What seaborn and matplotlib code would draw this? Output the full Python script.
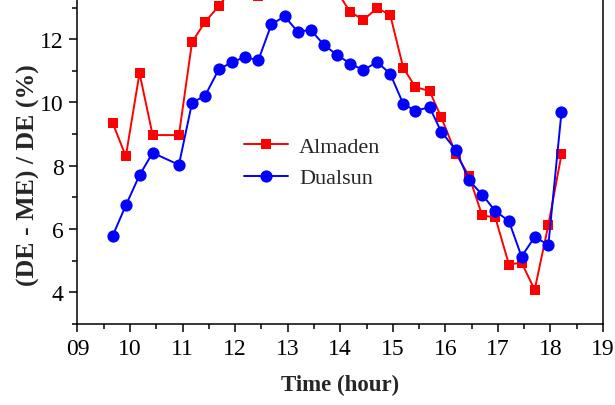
import matplotlib
matplotlib.use("Agg")
import matplotlib.pyplot as plt
import seaborn as sns
import pandas as pd
from matplotlib.ticker import MultipleLocator

# ---- data ----
hours = [9.67, 9.92, 10.18, 10.43, 10.93, 11.18, 11.43, 11.69, 11.94, 12.19,
         12.44, 12.69, 12.94, 13.19, 13.44, 13.69, 13.94, 14.19, 14.44, 14.70,
         14.95, 15.20, 15.43, 15.70, 15.92, 16.20, 16.45, 16.70, 16.95, 17.21,
         17.45, 17.70, 17.96, 18.21]
almaden = [9.35, 8.30, 10.93, 8.97, 8.97, 11.91, 12.55, 13.05, 13.6, 13.7,
           13.35, 13.9, 14.1, 13.9, 13.8, 13.7, 13.5, 12.86, 12.61, 12.98,
           12.77, 11.09, 10.49, 10.36, 9.54, 8.38, 7.68, 6.43, 6.37, 4.88,
           4.94, 4.08, 6.13, 8.36]
dualsun = [5.79, 6.75, 7.70, 8.41, 8.03, 9.99, 10.22, 11.05, 11.27, 11.44,
           11.33, 12.47, 12.72, 12.24, 12.29, 11.82, 11.50, 11.23, 11.02, 11.28,
           10.91, 9.95, 9.74, 9.85, 9.08, 8.50, 7.54, 7.09, 6.57, 6.25,
           5.13, 5.75, 5.50, 9.70]
xticks = [9, 10, 11, 12, 13, 14, 15, 16, 17, 18, 19]
xtick_labels = ["09", "10", "11", "12", "13", "14", "15", "16", "17", "18", "19"]
yticks = [4, 6, 8, 10, 12]

sns.set_style("ticks")
plt.rcParams["font.family"] = "serif"
plt.rcParams["font.serif"] = ["Liberation Serif", "Times New Roman", "DejaVu Serif"]
plt.rcParams["mathtext.fontset"] = "stix"

df_a = pd.DataFrame({"hour": hours, "value": almaden})
df_d = pd.DataFrame({"hour": hours, "value": dualsun})

fig = plt.figure(figsize=(6.15, 4.06), dpi=100)
ax = fig.add_axes([0.126, 0.1995, 0.9805 - 0.126, 1.0 - 0.1995])

sns.lineplot(data=df_a, x="hour", y="value", ax=ax, color="#ff0000",
             marker="s", markersize=7.8, markeredgewidth=0, linewidth=1.4,
             label="Almaden", sort=False)
sns.lineplot(data=df_d, x="hour", y="value", ax=ax, color="#0000ff",
             marker="o", markersize=8.8, markeredgewidth=0, linewidth=1.4,
             label="Dualsun", sort=False)

ax.set_xlim(9, 19)
ax.set_ylim(3, 13.27)
ax.set_xticks(xticks)
ax.set_xticklabels(xtick_labels)
ax.set_yticks(yticks)
ax.xaxis.set_minor_locator(MultipleLocator(0.5))
ax.yaxis.set_minor_locator(MultipleLocator(1))
ax.tick_params(axis="both", which="major", direction="out", length=6,
               width=1.1, labelsize=17, color="black", labelcolor="black",
               pad=4)
ax.tick_params(axis="both", which="minor", direction="out", length=3.5,
               width=1.1, color="black")
ax.tick_params(top=False, right=False, which="both")

for side in ["left", "bottom", "right"]:
    ax.spines[side].set_visible(True)
    ax.spines[side].set_color("black")
    ax.spines[side].set_linewidth(1.1)
ax.spines["top"].set_visible(False)

ax.set_xlabel("Time (hour)", fontsize=16.5, fontweight="bold", labelpad=11)
ax.set_ylabel("(DE - ME) / DE (%)", fontsize=18.5, fontweight="bold")
ax.yaxis.set_label_coords(-0.072, 0.46)

leg = ax.legend(loc="upper left", bbox_to_anchor=(0.299, 0.605), frameon=False,
                prop={"family": "serif", "size": 16}, handlelength=2.0,
                handletextpad=0.5, labelspacing=0.5, borderaxespad=0)

fig.savefig("out.png", dpi=100)
